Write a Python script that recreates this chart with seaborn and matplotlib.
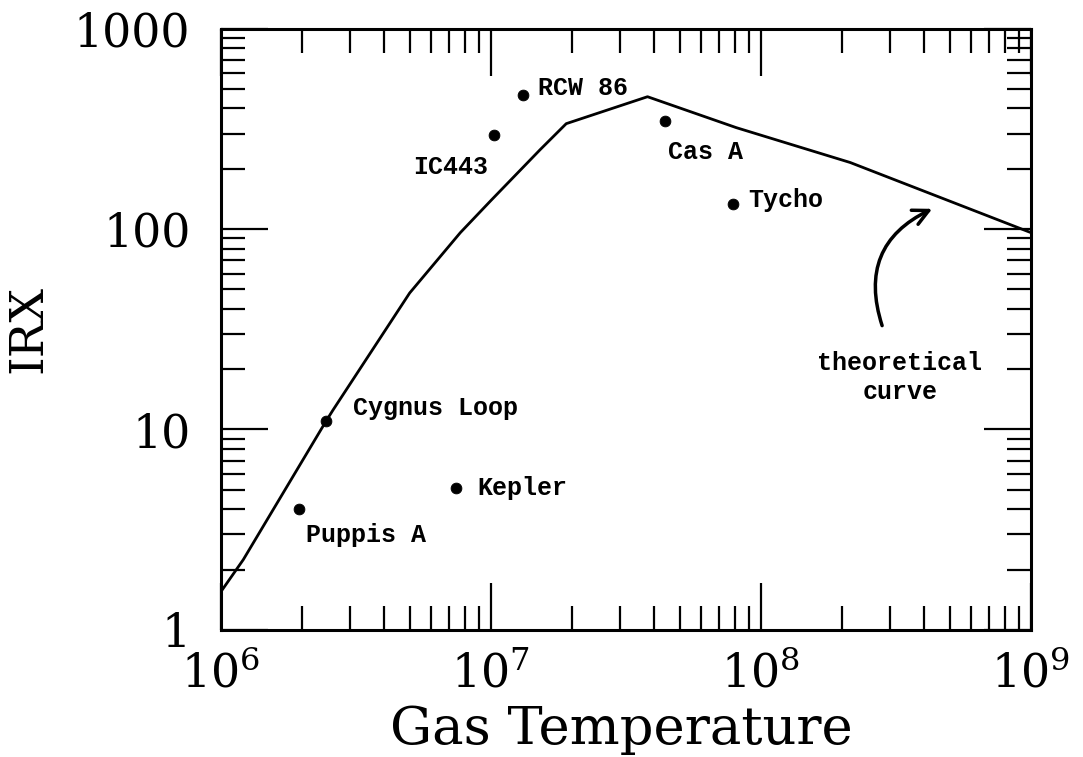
import matplotlib
matplotlib.use("Agg")
import matplotlib.pyplot as plt
import matplotlib.ticker as mticker
import seaborn as sns
import numpy as np
import pandas as pd

# theoretical curve
curve_temp = [1.0e6, 1.21e6, 2.45e6, 2.6e6, 5.0e6, 7.7e6, 1.0e7, 1.52e7, 1.9e7, 3.8e7, 8.1e7, 2.14e8, 1.0e9]
curve_irx = [1.55, 2.24, 11.0, 12.5, 48.0, 96.0, 139.0, 249.0, 336.0, 458.0, 321.0, 215.0, 96.0]

# remnants
snr_names = ["Puppis A", "Cygnus Loop", "Kepler", "IC443", "RCW 86", "Cas A", "Tycho"]
snr_temp = [1.95e6, 2.45e6, 7.4e6, 1.03e7, 1.31e7, 4.4e7, 7.9e7]
snr_irx = [4.0, 11.0, 5.1, 296.0, 469.0, 348.0, 134.0]

curve_df = pd.DataFrame({"temp": curve_temp, "irx": curve_irx})
snr_df = pd.DataFrame({"name": snr_names, "temp": snr_temp, "irx": snr_irx})

sns.set_style("ticks")
plt.rcParams["font.family"] = ["DejaVu Serif"]
plt.rcParams["mathtext.fontset"] = "custom"
plt.rcParams["mathtext.rm"] = "DejaVu Serif"
plt.rcParams["mathtext.it"] = "DejaVu Serif"
plt.rcParams["text.color"] = "black"
plt.rcParams["axes.labelcolor"] = "black"
plt.rcParams["xtick.color"] = "black"
plt.rcParams["ytick.color"] = "black"

fig = plt.figure(figsize=(10.83, 7.57), dpi=100)
ax = fig.add_axes([0.204, 0.168, 0.748, 0.794])

sns.lineplot(data=curve_df, x="temp", y="irx", color="black", lw=2, ax=ax, sort=False)
sns.scatterplot(data=snr_df, x="temp", y="irx", color="black", s=60, edgecolor="black", ax=ax, zorder=3)

ax.set_xscale("log")
ax.set_yscale("log")
ax.set_xlim(1e6, 1e9)
ax.set_ylim(1, 1000)

# label offsets in pixels from each dot
offsets = {
    "Puppis A": (7, -26, "left"),
    "Cygnus Loop": (27, 13, "left"),
    "Kepler": (22, 0, "left"),
    "IC443": (-6, -32, "right"),
    "RCW 86": (15, 7, "left"),
    "Cas A": (3, -31, "left"),
    "Tycho": (15, 4, "left"),
}
mono = dict(family="Liberation Mono", fontsize=18, fontweight="bold", color="black")
for name, t, v in zip(snr_names, snr_temp, snr_irx):
    dx, dy, ha = offsets[name]
    ax.annotate(name, (t, v), xytext=(dx, dy), textcoords="offset pixels",
                ha=ha, va="center", **mono)

ax.text(3.27e8, 18.1, "theoretical\ncurve", ha="center", va="center", linespacing=1.25, **mono)
ax.annotate("", xy=(4.4e8, 128), xytext=(2.83e8, 32),
            arrowprops=dict(arrowstyle="->", lw=2.5, color="black", mutation_scale=28,
                            connectionstyle="arc3,rad=-0.45"))

ax.tick_params(which="both", direction="in", top=True, right=True, width=1.6, color="black")
ax.tick_params(which="major", length=34)
ax.tick_params(which="minor", length=17)
ax.tick_params(axis="x", which="major", labelsize=33, pad=16)
ax.tick_params(axis="y", which="major", labelsize=33, pad=22)

ax.xaxis.set_major_locator(mticker.LogLocator(base=10, numticks=10))
ax.xaxis.set_minor_locator(mticker.LogLocator(base=10, subs=np.arange(2, 10), numticks=20))
ax.yaxis.set_major_locator(mticker.LogLocator(base=10, numticks=10))
ax.yaxis.set_minor_locator(mticker.LogLocator(base=10, subs=np.arange(2, 10), numticks=20))
ax.xaxis.set_major_formatter(mticker.FuncFormatter(lambda v, p: r"$\mathregular{10^{%d}}$" % round(np.log10(v))))
ax.yaxis.set_major_formatter(mticker.FuncFormatter(lambda v, p: "%d" % round(v)))
ax.xaxis.set_minor_formatter(mticker.NullFormatter())
ax.yaxis.set_minor_formatter(mticker.NullFormatter())

for sp in ax.spines.values():
    sp.set_linewidth(2.2)
    sp.set_color("black")

ax.set_xlabel("Gas Temperature", fontsize=38)
ax.xaxis.set_label_coords(0.494, -0.124)
ax.set_ylabel("IRX", fontsize=34, labelpad=16)

fig.savefig("out.png", dpi=100, facecolor="white")
